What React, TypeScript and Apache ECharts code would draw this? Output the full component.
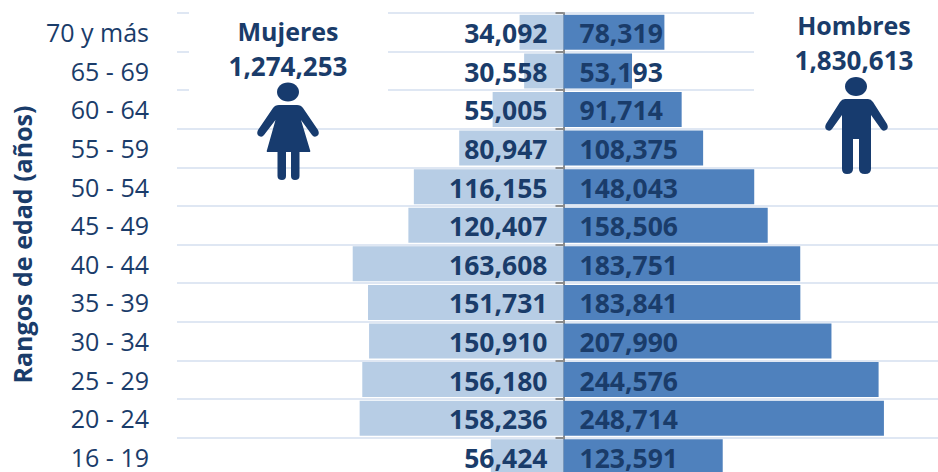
import React, { useEffect, useRef } from "react";
import * as echarts from "echarts";

const categories = ["70 y más", "65 - 69", "60 - 64", "55 - 59", "50 - 54", "45 - 49", "40 - 44", "35 - 39", "30 - 34", "25 - 29", "20 - 24", "16 - 19"];
const mujeres = [34092, 30558, 55005, 80947, 116155, 120407, 163608, 151731, 150910, 156180, 158236, 56424];
const hombres = [78319, 53193, 91714, 108375, 148043, 158506, 183751, 183841, 207990, 244576, 248714, 123591];

const FONT = '"Open Sans", sans-serif';
const DARK = "#1a3c6a";
const ICON = "#173b6e";
const fmt = (v: number) => Math.abs(v).toLocaleString("en-US");

const womanPath = "M279 105L297 105Q301 105 303 108L318 130Q320 134 317 136Q314 138 312 135L301 120L310 150Q311 152 309 152L299.5 152L299.5 176Q299.5 180 295 180Q291 180 291 176L291 152L286 152L286 176Q286 180 282 180Q277.5 180 277.5 176L277.5 152L268 152Q266 152 267 150L275.5 120L264 135Q262 138 259 136Q256 134 258 130L273 108Q275 105 279 105Z";
const manPath = "M845 99L868 99Q871 99 873 102L887 124Q889 128 886 130Q883 132 881 129L871 115L871 169Q871 174 865 174Q859 174 859 169L859 139L853 139L853 169Q853 174 847 174Q842 174 842 169L842 115L832 129Q830 132 827 130Q824 128 826 124L840 102Q842 99 845 99Z";

echarts.graphic.registerShape("woman", echarts.graphic.extendPath(womanPath as any, {}) as any);
echarts.graphic.registerShape("man", echarts.graphic.extendPath(manPath as any, {}) as any);

const headline = (text: string, x: number, y: number, size: number) => ({
  type: "text", x, y, z: 10,
  style: { text, fill: DARK, font: `700 ${size}px ${FONT}`, textAlign: "center", textVerticalAlign: "middle" },
});

export default function App() {
  const ref = useRef<HTMLDivElement>(null);
  useEffect(() => {
    document.body.style.margin = "0";
    const chart = echarts.init(ref.current!, undefined, { renderer: "svg" });
    const label = (position: string, distance: number) => ({
      show: true, position, distance, color: DARK,
      fontFamily: FONT, fontWeight: 700, fontSize: 26.5, lineHeight: 26,
      offset: [0, 1],
      formatter: (p: any) => fmt(p.value),
    });
    chart.setOption({
      animation: false,
      backgroundColor: "#fff",
      grid: { left: 177, top: 13, width: 773, height: 463, containLabel: false, outerBoundsMode: "none" },
      xAxis: { type: "value", min: -300000, max: 300000, show: false, splitLine: { show: false } },
      yAxis: [
        {
          type: "category", inverse: true, data: categories, position: "left",
          name: "Rangos de edad (años)", nameLocation: "middle", nameGap: 143,
          nameTextStyle: { color: DARK, fontFamily: FONT, fontWeight: 700, fontSize: 25 },
          axisLine: { show: false, onZero: false }, axisTick: { show: false },
          axisLabel: { color: DARK, fontFamily: FONT, fontSize: 25, lineHeight: 24, margin: 28 },
          splitLine: { show: true, lineStyle: { color: "#dfe7f3", width: 2 } },
        },
        {
          type: "category", inverse: true, data: categories, position: "right",
          axisLine: { show: true, onZero: true, onZeroAxisIndex: 0, lineStyle: { color: "#8c8c8c", width: 2 } },
          axisTick: { show: true, inside: true, length: 8, lineStyle: { color: "#8c8c8c", width: 2 } },
          axisLabel: { show: false }, splitLine: { show: false },
        },
      ],
      series: [
        {
          name: "Mujeres", type: "bar", stack: "p", barWidth: 35,
          data: mujeres.map((v) => -v), itemStyle: { color: "#b7cde5" },
          label: label("insideRight", 16), z: 3,
        },
        {
          name: "Hombres", type: "bar", stack: "p", barWidth: 35,
          data: hombres, itemStyle: { color: "#4f81bd" },
          label: label("insideLeft", 16), z: 3,
        },
      ],
      graphic: [
        { type: "rect", shape: { x: 189, y: 0, width: 199, height: 110 }, style: { fill: "#fff" }, z: 1 },
        { type: "rect", shape: { x: 754, y: 0, width: 184, height: 110 }, style: { fill: "#fff" }, z: 1 },
        headline("Mujeres", 288, 31, 25),
        headline("1,274,253", 288, 66, 26),
        headline("Hombres", 854, 25, 25),
        headline("1,830,613", 854, 60, 26),
        { type: "ellipse", shape: { cx: 288, cy: 92, rx: 11, ry: 9.5 }, style: { fill: ICON }, z: 10 },
        { type: "woman", x: 0, y: 0, style: { fill: ICON }, z: 10 },
        { type: "ellipse", shape: { cx: 856, cy: 86.5, rx: 11, ry: 9.5 }, style: { fill: ICON }, z: 10 },
        { type: "man", x: 0, y: 0, style: { fill: ICON }, z: 10 },
      ],
    });
    return () => chart.dispose();
  }, []);
  return <div ref={ref} style={{ width: 938, height: 472 }} />;
}
